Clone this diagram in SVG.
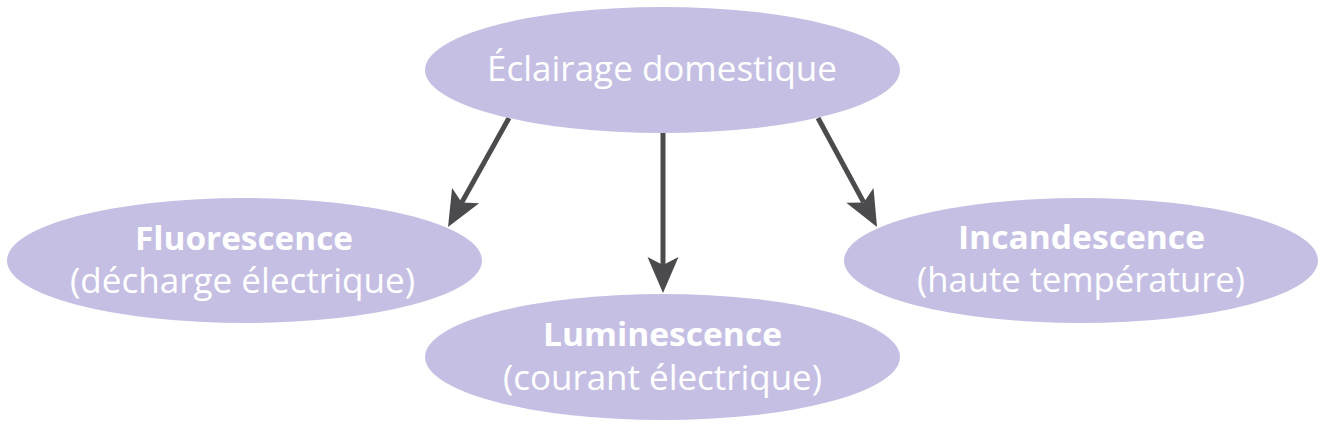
<svg xmlns="http://www.w3.org/2000/svg" width="1323" height="427" viewBox="0 0 1323 427">
<defs>
<style>
.node ellipse{fill:#c6bfe4}
.t{fill:#ffffff;font-family:"Open Sans","Noto Sans","Liberation Sans",sans-serif;text-anchor:middle}
.r{font-size:34px;font-weight:400}
.b{font-size:31.5px;font-weight:700}
.conn{stroke:#4b4a4d;stroke-width:5;fill:none}
</style>
<marker id="ah" markerUnits="userSpaceOnUse" orient="auto" markerWidth="40" markerHeight="34" viewBox="0 -17 40 34" refX="8" refY="0" overflow="visible">
<path d="M0,-15.5 L36,0 L0,15.5 L8,0 Z" fill="#4b4a4d"/>
</marker>
</defs>
<rect width="1323" height="427" fill="#ffffff"/>
<g id="connectors">
<line class="conn" x1="509" y1="118" x2="461.7" y2="202.6" marker-end="url(#ah)"/>
<line class="conn" x1="663" y1="133" x2="663" y2="265" marker-end="url(#ah)"/>
<line class="conn" x1="818" y1="118" x2="863.7" y2="202.4" marker-end="url(#ah)"/>
</g>
<g id="eclairage" class="node">
<ellipse cx="662.5" cy="70" rx="237.5" ry="63"/>
<text class="t r" x="662" y="81" textLength="350" lengthAdjust="spacingAndGlyphs">Éclairage domestique</text>
</g>
<g id="fluorescence" class="node">
<ellipse cx="244.5" cy="260.5" rx="237.5" ry="62.5"/>
<text class="t b" x="244" y="250" textLength="218" lengthAdjust="spacingAndGlyphs">Fluorescence</text>
<text class="t r" x="242.5" y="293" textLength="345" lengthAdjust="spacingAndGlyphs">(décharge électrique)</text>
</g>
<g id="luminescence" class="node">
<ellipse cx="662.5" cy="357" rx="237.5" ry="63"/>
<text class="t b" x="662.5" y="346" textLength="239" lengthAdjust="spacingAndGlyphs">Luminescence</text>
<text class="t r" x="662.5" y="390" textLength="319" lengthAdjust="spacingAndGlyphs">(courant électrique)</text>
</g>
<g id="incandescence" class="node">
<ellipse cx="1081" cy="260.5" rx="237" ry="62.5"/>
<text class="t b" x="1081.5" y="248.5" textLength="247" lengthAdjust="spacingAndGlyphs">Incandescence</text>
<text class="t r" x="1081" y="292" textLength="328" lengthAdjust="spacingAndGlyphs">(haute température)</text>
</g>
</svg>
